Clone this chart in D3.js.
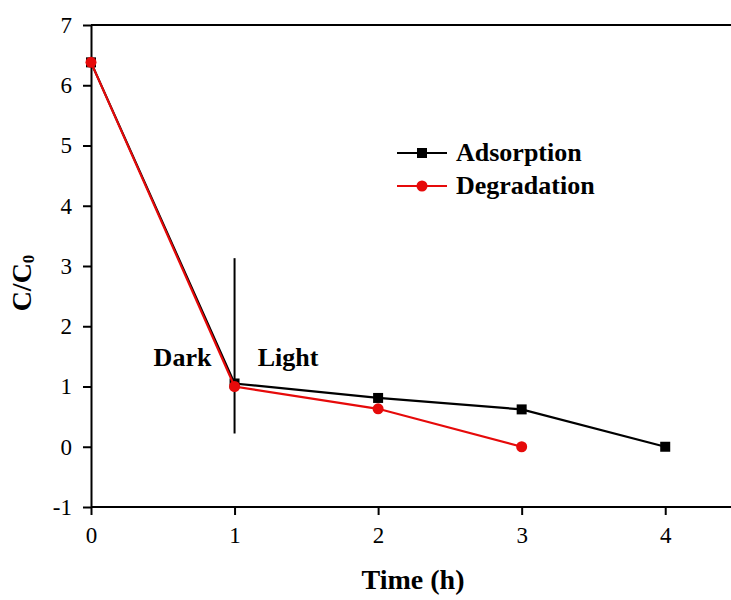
<!DOCTYPE html>
<html><head><meta charset="utf-8">
<script src="https://cdn.jsdelivr.net/npm/d3@7"></script>
<style>body{margin:0;background:#fff}svg{display:block}
svg text{font-family:"Liberation Serif","Times New Roman",serif;}</style>
</head><body>
<script>
const timeAds = [0, 1, 2, 3, 4];
const adsorption = [6.38, 1.05, 0.81, 0.62, 0.0];
const timeDeg = [0, 1, 2, 3];
const degradation = [6.38, 1.0, 0.63, 0.0];
const xTicks = [0, 1, 2, 3, 4];
const yTicks = [-1, 0, 1, 2, 3, 4, 5, 6, 7];
const divider = {x: 1, y0: 0.22, y1: 3.13};

const W = 731, H = 600;
const svg = d3.select("body").append("svg").attr("width", W).attr("height", H);
const x = d3.scaleLinear().domain([0, 4.5]).range([91, 737]);
const y = d3.scaleLinear().domain([-1, 7]).range([507, 25]);
const fmt = d => String(d);

svg.append("line").attr("x1", x(0)).attr("x2", W + 10).attr("y1", y(7)).attr("y2", y(7))
  .attr("stroke", "#000").attr("stroke-width", 2);

const gx = svg.append("g").attr("transform", `translate(0,${y(-1)})`);
gx.call(d3.axisBottom(x).tickValues(d3.range(0.5, 4.5, 1)).tickSize(5).tickFormat(""));
gx.call(d3.axisBottom(x).tickValues(xTicks).tickSize(8).tickSizeOuter(0).tickPadding(12).tickFormat(fmt));
const gy = svg.append("g").attr("transform", `translate(${x(0)},0)`);
gy.call(d3.axisLeft(y).tickValues(d3.range(-0.5, 7, 1)).tickSize(5).tickFormat(""));
gy.call(d3.axisLeft(y).tickValues(yTicks).tickSize(8).tickSizeOuter(0).tickPadding(11).tickFormat(fmt));
svg.selectAll("g").attr("font-family", null);
svg.selectAll(".domain").attr("stroke", "#000").attr("stroke-width", 2);
svg.selectAll(".tick line").attr("stroke", "#000").attr("stroke-width", 2);
svg.selectAll(".tick text").attr("font-size", 23).attr("fill", "#000");
gx.selectAll(".domain").attr("d", `M${x(0)},0H${W + 10}`);

svg.append("line").attr("x1", x(divider.x)).attr("x2", x(divider.x))
  .attr("y1", y(divider.y1)).attr("y2", y(divider.y0)).attr("stroke", "#000").attr("stroke-width", 2);

const line = d3.line();
const adsPts = timeAds.map((t, i) => [x(t), y(adsorption[i])]);
const degPts = timeDeg.map((t, i) => [x(t), y(degradation[i])]);
const red = "#e60a0a";
svg.append("path").attr("d", line(adsPts)).attr("fill", "none").attr("stroke", "#000").attr("stroke-width", 2.2);
svg.selectAll(".sq").data(adsPts).join("rect").attr("x", d => d[0] - 5).attr("y", d => d[1] - 5)
  .attr("width", 10).attr("height", 10).attr("fill", "#000");
svg.append("path").attr("d", line(degPts)).attr("fill", "none").attr("stroke", red).attr("stroke-width", 2.2);
svg.selectAll(".ci").data(degPts).join("circle").attr("cx", d => d[0]).attr("cy", d => d[1])
  .attr("r", 5.5).attr("fill", red);

svg.append("text").attr("x", 182.5).attr("y", 366).attr("text-anchor", "middle")
  .attr("font-weight", "bold").attr("font-size", 26).text("Dark");
svg.append("text").attr("x", 288).attr("y", 366).attr("text-anchor", "middle")
  .attr("font-weight", "bold").attr("font-size", 26).text("Light");

const leg = [["Adsorption", "#000", "sq", 153], ["Degradation", red, "ci", 186]];
leg.forEach(([name, c, m, ly]) => {
  svg.append("line").attr("x1", 397).attr("x2", 447).attr("y1", ly).attr("y2", ly).attr("stroke", c).attr("stroke-width", 2.2);
  if (m === "sq") svg.append("rect").attr("x", 417).attr("y", ly - 5).attr("width", 10).attr("height", 10).attr("fill", c);
  else svg.append("circle").attr("cx", 422).attr("cy", ly).attr("r", 5.5).attr("fill", c);
  svg.append("text").attr("x", 456).attr("y", ly + 8).attr("font-weight", "bold")
    .attr("font-size", 26).text(name);
});

svg.append("text").attr("x", 413).attr("y", 589).attr("text-anchor", "middle")
  .attr("font-weight", "bold").attr("font-size", 28).text("Time (h)");
const yt = svg.append("text").attr("transform", "translate(31,283) rotate(-90)").attr("text-anchor", "middle")
  .attr("font-weight", "bold").attr("font-size", 28);
yt.append("tspan").text("C/C");
yt.append("tspan").attr("font-size", 17).attr("dy", 3).text("0");
</script>
</body></html>
